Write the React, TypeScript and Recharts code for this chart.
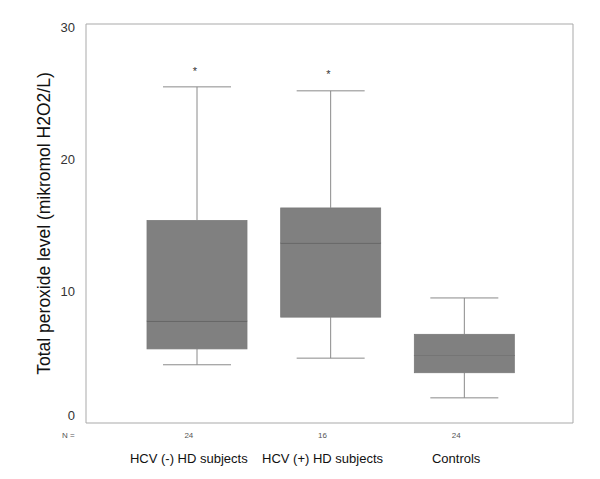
import React from "react";
import { ComposedChart, Bar, Scatter, XAxis, YAxis } from "recharts";

// box plot values
const groups = ["HCV (-) HD subjects", "HCV (+) HD subjects", "Controls"];
const nCounts = [24, 16, 24];
const whiskerLow = [4.4, 4.9, 1.9];
const q1 = [5.6, 8.0, 3.8];
const median = [7.7, 13.6, 5.1];
const q3 = [15.3, 16.25, 6.7];
const whiskerHigh = [25.4, 25.1, 9.45];
const outliers = [26.75, 26.5, null];
const yTicks = [0, 10, 20, 30];

const data = groups.map((name, i) => ({
  name,
  n: nCounts[i],
  base: whiskerLow[i],
  lowWhisker: q1[i] - whiskerLow[i],
  lowBox: median[i] - q1[i],
  highBox: q3[i] - median[i],
  highWhisker: whiskerHigh[i] - q3[i],
  outlier: outliers[i],
}));

const FONT = "'Liberation Sans', Arial, sans-serif";
const FRAME = "#a9a9a9";
const WHISKER = "#8a8a8a";
const BOX = "#808080";
const MEDIAN = "#3f3f3f";
const CAP = 68;

const LowWhisker = (p: any) => {
  const cx = p.x + p.width / 2;
  return (
    <g>
      <line x1={cx} x2={cx} y1={p.y} y2={p.y + p.height} stroke={WHISKER} />
      <line x1={cx - CAP / 2} x2={cx + CAP / 2} y1={p.y + p.height} y2={p.y + p.height} stroke={WHISKER} />
    </g>
  );
};

const HighWhisker = (p: any) => {
  const cx = p.x + p.width / 2;
  return (
    <g>
      <line x1={cx} x2={cx} y1={p.y} y2={p.y + p.height} stroke={WHISKER} />
      <line x1={cx - CAP / 2} x2={cx + CAP / 2} y1={p.y} y2={p.y} stroke={WHISKER} />
    </g>
  );
};

const LowBox = (p: any) => (
  <g>
    <rect x={p.x} y={p.y} width={p.width} height={p.height} fill={BOX} stroke="#7a7a7a" strokeWidth={0.8} />
    <line x1={p.x} x2={p.x + p.width} y1={p.y} y2={p.y} stroke={MEDIAN} strokeWidth={1.2} />
  </g>
);

const HighBox = (p: any) => (
  <rect x={p.x} y={p.y} width={p.width} height={p.height} fill={BOX} stroke="#7a7a7a" strokeWidth={0.8} />
);

const Star = (p: any) => {
  if (p.cx == null || p.cy == null || p.payload?.outlier == null) return <g />;
  return (
    <text x={p.cx - 2} y={p.cy + 6} textAnchor="middle" fontSize={11} fontFamily={FONT} fill="#333">
      *
    </text>
  );
};

const YTick = (p: any) => {
  const v = p.payload.value;
  return (
    <text x={p.x} y={p.y + (v === 0 ? -8 : 1)} dy="0.355em" textAnchor="end" fontSize={13} fontFamily={FONT} fill="#333">
      {v}
    </text>
  );
};

const XTick = (p: any) => {
  const i = p.index;
  return (
    <g>
      <text x={p.x - 8} y={p.y + 12} dy="0.355em" textAnchor="middle" fontSize={8} fontFamily={FONT} fill="#555">
        {nCounts[i]}
      </text>
      <text x={p.x - 8} y={p.y + 35} dy="0.355em" textAnchor="middle" fontSize={13} fontFamily={FONT} fill="#111">
        {p.payload.value}
      </text>
    </g>
  );
};

export default function App() {
  return (
    <div style={{ position: "absolute", left: 0, top: 0, background: "#fff" }}>
      <ComposedChart width={600} height={479} data={data} margin={{ top: 23, right: 26, bottom: 0, left: 0 }}>
        <XAxis
          dataKey="name"
          height={56}
          padding={{ left: 44, right: 42 }}
          axisLine={{ stroke: FRAME }}
          tickLine={false}
          tickSize={0}
          tickMargin={0}
          interval={0}
          tick={<XTick />}
          label={(props: any) => {
            const vb = props.viewBox || { x: 86, y: 423 };
            return (
              <text x={vb.x - 24} y={vb.y + 12} dy="0.355em" fontSize={8} fontFamily={FONT} fill="#555">
                N =
              </text>
            );
          }}
        />
        <XAxis
          xAxisId="top"
          dataKey="name"
          orientation="top"
          height={1}
          tick={false}
          tickLine={false}
          axisLine={{ stroke: FRAME }}
        />
        <YAxis
          width={86}
          domain={[0, 30.15]}
          ticks={yTicks}
          allowDataOverflow
          axisLine={{ stroke: FRAME }}
          tickLine={false}
          tickSize={0}
          tickMargin={11}
          tick={<YTick />}
          label={(props: any) => {
            const vb = props.viewBox || { x: 0, y: 24, height: 399 };
            const cy = vb.y + vb.height / 2;
            return (
              <text
                x={44}
                y={cy}
                transform={`rotate(-90, 44, ${cy})`}
                textAnchor="middle"
                dy="0.355em"
                fontSize={17.5}
                fontFamily={FONT}
                fill="#111"
              >
                Total peroxide level (mikromol H2O2/L)
              </text>
            );
          }}
        />
        <YAxis
          yAxisId="right"
          orientation="right"
          width={1}
          domain={[0, 30.15]}
          tick={false}
          tickLine={false}
          axisLine={{ stroke: FRAME }}
        />
        <Bar dataKey="base" stackId="box" fill="none" barSize={100} isAnimationActive={false} />
        <Bar dataKey="lowWhisker" stackId="box" barSize={100} shape={LowWhisker} isAnimationActive={false} />
        <Bar dataKey="lowBox" stackId="box" barSize={100} shape={LowBox} isAnimationActive={false} />
        <Bar dataKey="highBox" stackId="box" barSize={100} shape={HighBox} isAnimationActive={false} />
        <Bar dataKey="highWhisker" stackId="box" barSize={100} shape={HighWhisker} isAnimationActive={false} />
        <Scatter dataKey="outlier" shape={Star} isAnimationActive={false} />
      </ComposedChart>
    </div>
  );
}
